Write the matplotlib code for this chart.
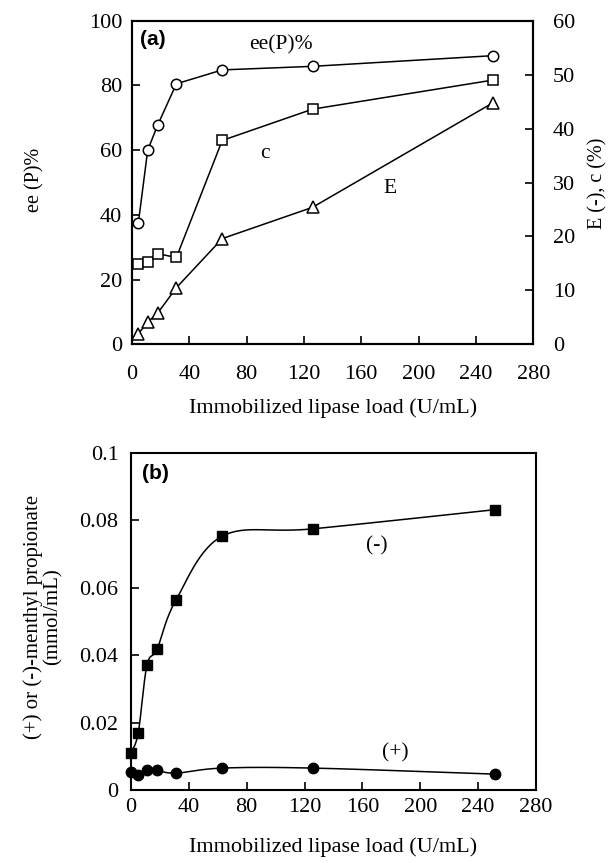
import matplotlib
matplotlib.use('Agg')
import matplotlib.pyplot as plt
import numpy as np

plt.rcParams['font.family'] = ['Liberation Serif', 'DejaVu Serif']

# panel (a): enzyme load vs ee(P), conversion c and enantioselectivity E
load_a = [4.5, 11, 18, 31, 63, 126, 252]
ee_p = [37.6, 60.0, 67.8, 80.5, 84.8, 85.9, 89.2]
conv_c = [14.9, 15.2, 16.8, 16.1, 37.8, 43.6, 49.0]
e_val = [2.0, 4.1, 5.8, 10.5, 19.6, 25.4, 44.8]

# panel (b): (-) and (+) menthyl propionate formed
load_b = [0, 5, 11, 18, 31, 63, 126, 252]
minus_mp = [0.0111, 0.0170, 0.0370, 0.0418, 0.0563, 0.0753, 0.0775, 0.0832]
plus_mp = [0.0053, 0.0044, 0.0058, 0.0058, 0.0050, 0.0065, 0.0065, 0.0047]

x_ticks = [0, 40, 80, 120, 160, 200, 240, 280]
b_yticks = [0, 0.02, 0.04, 0.06, 0.08, 0.1]
b_ylabels = ['0', '0.02', '0.04', '0.06', '0.08', '0.1']

TICK_FS = 16
TEXT_FS = 15.5
LABEL_FS = 16


def smooth(x, y, n=30):
    # bezier smoothing through every point, like a spreadsheet "smoothed line"
    x = np.asarray(x, float)
    y = np.asarray(y, float)
    px = np.concatenate([[x[0]], x, [x[-1]]])
    py = np.concatenate([[y[0]], y, [y[-1]]])
    xs, ys = [], []
    t = np.linspace(0, 1, n)
    for i in range(1, len(px) - 2):
        p0 = np.array([px[i], py[i]])
        p3 = np.array([px[i + 1], py[i + 1]])
        p1 = p0 + (np.array([px[i + 1], py[i + 1]]) - np.array([px[i - 1], py[i - 1]])) / 6
        p2 = p3 - (np.array([px[i + 2], py[i + 2]]) - np.array([px[i], py[i]])) / 6
        b = ((1 - t) ** 3)[:, None] * p0 + (3 * (1 - t) ** 2 * t)[:, None] * p1 \
            + (3 * (1 - t) * t ** 2)[:, None] * p2 + (t ** 3)[:, None] * p3
        xs.append(b[:, 0])
        ys.append(b[:, 1])
    return np.concatenate(xs), np.concatenate(ys)


def style_axes(ax):
    for s in ax.spines.values():
        s.set_linewidth(1.5)
    ax.tick_params(direction='in', length=6, width=1.2, labelsize=TICK_FS)
    ax.tick_params(axis='x', top=False)


fig = plt.figure(figsize=(6.08, 8.63), dpi=100)

# ---- (a)
ax1 = fig.add_axes([0.217, 0.601, 0.660, 0.375])
ax2 = ax1.twinx()
ax1.plot(load_a, ee_p, '-o', color='black', mfc='white', ms=7.5, mew=1.1, lw=1.1, zorder=3)
ax2.plot(load_a, conv_c, '-s', color='black', mfc='white', ms=7.5, mew=1.1, lw=1.1, zorder=3)
ax2.plot(load_a, e_val, '-^', color='black', mfc='white', ms=8, mew=1.1, lw=1.1, zorder=3)
ax1.set_xlim(0, 280)
ax1.set_ylim(0, 100)
ax2.set_ylim(0, 60)
ax1.set_xticks(x_ticks)
ax1.set_yticks([0, 20, 40, 60, 80, 100])
ax2.set_yticks([0, 10, 20, 30, 40, 50, 60])
style_axes(ax1)
style_axes(ax2)
ax1.tick_params(axis='x', pad=15)
ax1.tick_params(axis='y', pad=7)
ax2.tick_params(axis='y', pad=14)
ax1.set_xlabel('Immobilized lipase load (U/mL)', fontsize=LABEL_FS, labelpad=10)
fig.text(35 / 608, 1 - 180 / 863, 'ee (P)%', fontsize=14.5, rotation=90, ha='center', va='center')
fig.text(598 / 608, 1 - 183 / 863, 'E (-), c (%)', fontsize=14.5, rotation=90, ha='center', va='center')
ax1.text(0.02, 0.943, '(a)', transform=ax1.transAxes, fontsize=15, fontweight='bold',
         family='Liberation Sans', ha='left', va='center')
ax1.text(104, 92.4, 'ee(P)%', fontsize=TEXT_FS, ha='center', va='center')
ax1.text(93, 59, 'c', fontsize=TEXT_FS, ha='center', va='center')
ax1.text(180, 48, 'E', fontsize=TEXT_FS, ha='center', va='center')

# ---- (b)
ax3 = fig.add_axes([0.2155, 0.0846, 0.666, 0.3905])
sx, sy = smooth(load_b, minus_mp)
ax3.plot(sx, sy, color='black', lw=1.1)
ax3.plot(load_b, minus_mp, 's', color='black', ms=7.5, clip_on=False, zorder=3)
sx, sy = smooth(load_b, plus_mp)
ax3.plot(sx, sy, color='black', lw=1.1)
ax3.plot(load_b, plus_mp, 'o', color='black', ms=7.5, clip_on=False, zorder=3)
ax3.set_xlim(0, 280)
ax3.set_ylim(0, 0.1)
ax3.set_xticks(x_ticks)
ax3.set_yticks(b_yticks)
ax3.set_yticklabels(b_ylabels)
style_axes(ax3)
ax3.tick_params(axis='y', right=False, pad=9)
ax3.tick_params(axis='x', pad=6)
ax3.set_xlabel('Immobilized lipase load (U/mL)', fontsize=LABEL_FS, labelpad=14)
fig.text(43 / 608, 1 - 617 / 863, '(+) or (-)-menthyl propionate\n(mmol/mL)', fontsize=15,
         rotation=90, ha='center', va='center', multialignment='center', linespacing=1.0)
ax3.text(0.026, 0.939, '(b)', transform=ax3.transAxes, fontsize=15, fontweight='bold',
         family='Liberation Sans', ha='left', va='center')
ax3.text(170, 0.0724, '(-)', fontsize=TEXT_FS, ha='center', va='center')
ax3.text(183, 0.0109, '(+)', fontsize=TEXT_FS, ha='center', va='center')

fig.savefig('out.png', dpi=100)
